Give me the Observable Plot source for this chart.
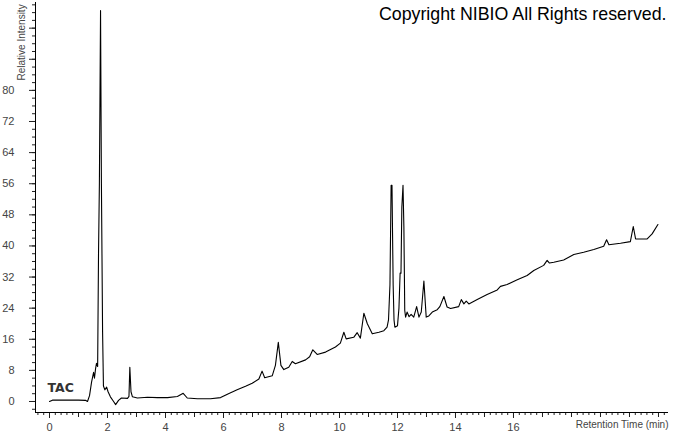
<!DOCTYPE html>
<html><head><meta charset="utf-8">
<script src="https://cdn.jsdelivr.net/npm/d3@7"></script>
<script src="https://cdn.jsdelivr.net/npm/@observablehq/plot@0.6"></script>
<style>html,body{margin:0;padding:0;background:#fff}svg{display:block}</style>
</head><body><div id="chart"></div>
<script>
const retentionTime = [0, 0.1, 0.5, 1.0, 1.24, 1.31, 1.38, 1.45, 1.52, 1.55,
  1.59, 1.62, 1.66, 1.69, 1.72, 1.76, 1.79, 1.83, 1.86, 1.91,
  1.97, 2.02, 2.10, 2.21, 2.28, 2.38, 2.48, 2.69, 2.74, 2.77,
  2.81, 2.86, 3.03, 3.38, 3.72, 4.07, 4.41, 4.61, 4.75, 5.10,
  5.55, 5.90, 6.17, 6.47, 6.76, 6.99, 7.22, 7.33, 7.42, 7.68,
  7.79, 7.89, 7.98, 8.08, 8.25, 8.37, 8.48, 8.83, 8.97, 9.08,
  9.23, 9.52, 9.86, 10.03, 10.15, 10.23, 10.49, 10.61, 10.72, 10.84,
  10.96, 11.13, 11.36, 11.53, 11.64, 11.69, 11.74, 11.78, 11.81, 11.85,
  11.88, 11.91, 12.0, 12.05, 12.09, 12.12, 12.15, 12.19, 12.22, 12.25,
  12.28, 12.33, 12.40, 12.47, 12.56, 12.66, 12.74, 12.82, 12.91, 12.99,
  13.08, 13.20, 13.37, 13.46, 13.60, 13.71, 13.83, 14.11, 14.20, 14.29,
  14.37, 14.46, 14.75, 15.09, 15.44, 15.55, 15.78, 16.13, 16.47, 16.70,
  17.04, 17.16, 17.24, 17.39, 17.73, 18.08, 18.42, 18.77, 19.11, 19.21,
  19.29, 19.69, 20.03, 20.13, 20.21, 20.61, 20.78, 20.98];
const intensity = [0, 0.35, 0.35, 0.35, 0.3, 0.0, 1.5, 5, 7.5, 6,
  8.5, 9.8, 9.0, 38, 56, 100.5, 56, 18, 4, 3,
  3.7, 2.5, 1.2, 0, -0.8, 0.3, 0.9, 0.8, 1.3, 8.8,
  2.5, 1.2, 0.9, 1.1, 1.0, 1.0, 1.3, 2.1, 0.9, 0.7,
  0.7, 1.0, 2.0, 3.0, 3.9, 4.7, 5.8, 7.8, 6.1, 6.6,
  9.3, 15.2, 9.3, 8.2, 8.8, 10.3, 9.7, 10.7, 11.5, 13.3,
  12.1, 12.7, 14.0, 15.0, 17.8, 16.1, 16.5, 17.7, 16.3, 22.7,
  20.0, 17.4, 17.8, 18.2, 19.1, 21, 30, 55.6, 55.6, 30,
  21, 19.1, 19.5, 24, 33, 33, 50, 55.6, 45, 23.4,
  21.7, 23, 21.8, 22.4, 21.7, 24.4, 21.7, 23, 31, 21.7,
  22, 23, 23.6, 24.4, 27, 24.3, 23.9, 24.4, 26.2, 25.1,
  25.8, 25.1, 26.2, 27.5, 28.7, 29.6, 30.1, 31.3, 32.4, 33.7,
  35, 36.3, 35.6, 35.8, 36.4, 37.8, 38.4, 39.1, 39.9, 41.6,
  40.3, 40.7, 41.1, 45, 41.8, 41.8, 43.1, 45.5];

const xLabelTicks = [0, 2, 4, 6, 8, 10, 12, 14, 16];
const xUnitTicks = d3.range(0, 22, 1);
const xMinorTicks = d3.range(-2, 107, 1).map(d => d / 5);
const yLabelTicks = [0, 8, 16, 24, 32, 40, 48, 56, 64, 72, 80, 88, 96];
const yMinorTicks = d3.range(-2, 103, 2);
const xTitle = "Retention Time (min)";
const yTitle = "Relative Intensity";
const copyright = "Copyright NIBIO All Rights reserved.";
const traceName = "TAC";

const xDomain = [-0.483, 21.345];
const yDomain = [-2.83, 102.6];
const data = retentionTime.map((t, i) => ({t, v: intensity[i]}));
const font = "'Liberation Sans', Arial, sans-serif";

const chart = Plot.plot({
  width: 673, height: 433,
  marginLeft: 35, marginRight: 5, marginTop: 2, marginBottom: 21,
  x: {domain: xDomain, label: null},
  y: {domain: yDomain, label: null},
  style: {fontFamily: font, fontSize: "11px", color: "#444", background: "#fff", overflow: "visible"},
  marks: [
    Plot.axisX({ticks: xMinorTicks.filter(d => d >= xDomain[0] && d <= xDomain[1]), tickSize: 3, tickFormat: () => "", stroke: "#222", label: null}),
    Plot.axisX({ticks: xUnitTicks, tickSize: 5, tickFormat: () => "", stroke: "#222", label: null}),
    Plot.axisX({ticks: xLabelTicks, tickSize: 6, tickPadding: 5, stroke: "#222", fill: "#444", label: null}),
    Plot.axisY({ticks: yMinorTicks.filter(d => d >= yDomain[0] && d <= yDomain[1]), tickSize: 3, tickFormat: () => "", stroke: "#222", label: null}),
    Plot.axisY({ticks: yLabelTicks, tickSize: 6, tickPadding: 15, stroke: "#222", fill: "#444", tickFormat: d => d <= 80 ? String(d) : "", label: null}),
    Plot.ruleY([yDomain[0]], {stroke: "#000"}),
    Plot.ruleX([xDomain[0]], {stroke: "#000"}),
    Plot.line(data, {x: "t", y: "v", stroke: "#000", strokeWidth: 1.1}),
    Plot.text([xTitle], {frameAnchor: "bottom-right", textAnchor: "end", dx: 0, dy: 15, fill: "#444", fontSize: 10}),
    Plot.text([yTitle], {frameAnchor: "top-left", rotate: -90, textAnchor: "start", dx: -18, dy: 78, fill: "#444", fontSize: 10}),
    Plot.text([copyright], {frameAnchor: "top-right", textAnchor: "end", lineAnchor: "top", dx: -2, dy: 5, fill: "#000", fontSize: 17.8, fontFamily: font}),
    Plot.text([traceName], {frameAnchor: "bottom-left", textAnchor: "start", dx: 12, dy: -20.5, fill: "#333", fontSize: 12.5, fontWeight: "bold", fontFamily: "'DejaVu Sans', Verdana, sans-serif"})
  ]
});
document.getElementById("chart").append(chart);
</script>
</body></html>
